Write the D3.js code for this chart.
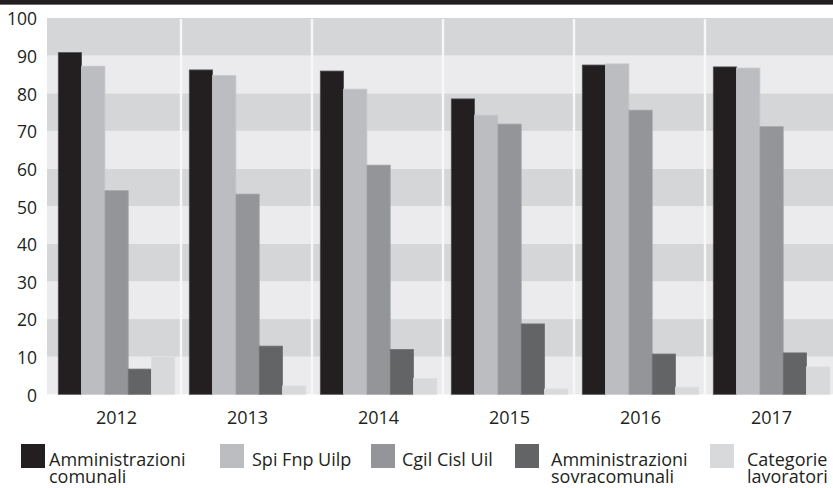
<!DOCTYPE html>
<html>
<head>
<meta charset="utf-8">
<script src="https://cdn.jsdelivr.net/npm/d3@7"></script>
<style>
  html, body { margin: 0; padding: 0; background: #fff; }
  svg { display: block; font-family: "Open Sans", sans-serif; }
</style>
</head>
<body>
<svg id="chart" width="833" height="488"></svg>
<script>
// values (percent)
const years = ["2012", "2013", "2014", "2015", "2016", "2017"];
const seriesNames = [
  ["Amministrazioni", "comunali"],
  ["Spi Fnp Uilp"],
  ["Cgil Cisl Uil"],
  ["Amministrazioni", "sovracomunali"],
  ["Categorie", "lavoratori"]
];
const amministrazioniComunali = [90.8, 86.2, 85.9, 78.5, 87.5, 87.0];
const spiFnpUilp = [87.2, 84.7, 81.1, 74.2, 87.8, 86.7];
const cgilCislUil = [54.1, 53.2, 60.9, 71.8, 75.5, 71.1];
const amministrazioniSovracomunali = [6.7, 12.8, 11.9, 18.7, 10.7, 11.0];
const categorieLavoratori = [9.9, 2.2, 4.2, 1.4, 1.9, 7.3];
const yTicks = [0, 10, 20, 30, 40, 50, 60, 70, 80, 90, 100];

const series = [amministrazioniComunali, spiFnpUilp, cgilCislUil,
                amministrazioniSovracomunali, categorieLavoratori];
const fills = ["#231f20", "#bcbdc0", "#939598", "#636466", "#d8d9db"];
const edges = ["#505052", "#c8c9cc", "#a2a3a6", "#707173", "#dddee0"];

const svg = d3.select("#chart");

// top strip
svg.append("rect").attr("x", 0).attr("y", 0).attr("width", 833).attr("height", 4)
  .attr("fill", "#231f20");
svg.append("rect").attr("x", 0).attr("y", 4).attr("width", 833).attr("height", 1)
  .attr("fill", "#6d6e71");

const plotLeft = 47, plotRight = 833;
const y = d3.scaleLinear().domain([0, 100]).range([394.3, 18]);
const x0 = d3.scaleBand().domain(years).range([50, 836]);
const x1 = d3.scaleBand().domain(d3.range(series.length))
  .range([8.3, 8.3 + 5 * 23.3]);

// alternating bands
const bands = d3.range(10);
svg.append("g").selectAll("rect").data(bands).enter().append("rect")
  .attr("x", plotLeft)
  .attr("width", plotRight - plotLeft)
  .attr("y", d => y(d * 10 + 10))
  .attr("height", d => y(d * 10) - y(d * 10 + 10))
  .attr("fill", d => d % 2 === 0 ? "#ebebed" : "#d5d6d8");

// white separators between years
svg.append("g").selectAll("line").data(years.slice(1)).enter().append("line")
  .attr("x1", d => x0(d)).attr("x2", d => x0(d))
  .attr("y1", y(100) + 1).attr("y2", y(0))
  .attr("stroke", "#f7f7f7")
  .attr("stroke-width", 2.4);

// bars
const groups = svg.append("g").selectAll("g").data(years).enter().append("g")
  .attr("transform", d => "translate(" + x0(d) + ",0)");

groups.selectAll("rect")
  .data((yr, i) => series.map((s, k) => ({ k: k, v: s[i] })))
  .enter().append("rect")
  .attr("x", d => x1(d.k))
  .attr("width", x1.bandwidth())
  .attr("y", d => y(d.v))
  .attr("height", d => y(0) - y(d.v))
  .attr("fill", d => fills[d.k])
  .attr("stroke", d => edges[d.k])
  .attr("stroke-width", 0.8);

// y axis labels
svg.append("g").selectAll("text").data(yTicks).enter().append("text")
  .attr("x", 37)
  .attr("y", d => y(d))
  .attr("dy", "0.42em")
  .attr("text-anchor", "end")
  .attr("font-size", 17.5)
  .attr("fill", "#231f20")
  .text(d => d);

// year labels
svg.append("g").selectAll("text").data(years).enter().append("text")
  .attr("x", d => x0(d) + x1.range()[0] + (x1.range()[1] - x1.range()[0]) / 2)
  .attr("y", 424)
  .attr("text-anchor", "middle")
  .attr("font-size", 18)
  .attr("fill", "#231f20")
  .text(d => d);

// legend
const swatchX = [21, 220, 371, 515, 710];
const labelX = [49, 252, 402, 551, 747];
const legend = svg.append("g").selectAll("g").data(seriesNames).enter().append("g");
legend.append("rect")
  .attr("x", (d, i) => swatchX[i])
  .attr("y", 444)
  .attr("width", 24)
  .attr("height", 24)
  .attr("fill", (d, i) => fills[i]);
legend.append("text")
  .attr("font-size", 18)
  .attr("fill", "#231f20")
  .each(function (d, i) {
    const t = d3.select(this);
    d.forEach((line, j) => {
      t.append("tspan").attr("x", labelX[i]).attr("y", 466 + j * 17).text(line);
    });
  });
</script>
</body>
</html>
